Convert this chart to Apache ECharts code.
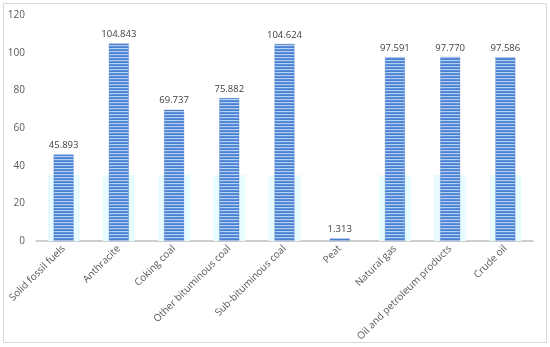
<!DOCTYPE html>
<html><head><meta charset="utf-8">
<script src="https://cdn.jsdelivr.net/npm/echarts@6/dist/echarts.min.js"></script>
<style>html,body{margin:0;padding:0;background:#fff}#c{width:550px;height:347px}</style>
</head><body><div id="c"></div>
<script>
const categories = ['Solid fossil fuels','Anthracite','Coking coal','Other bituminous coal','Sub-bituminous coal','Peat','Natural gas','Oil and petroleum products','Crude oil'];
const values = [45.893, 104.843, 69.737, 75.882, 104.624, 1.313, 97.591, 97.770, 97.586];
const glowValues = [35, 35, 35, 35, 35, 0, 35, 35, 35];
const yTicks = [0, 20, 40, 60, 80, 100, 120];

const pc = document.createElement('canvas');
pc.width = 4; pc.height = 3;
const g = pc.getContext('2d');
g.fillStyle = '#b6cff2'; g.fillRect(0,0,4,1);
g.fillStyle = '#5c90da'; g.fillRect(0,1,4,1);
g.fillStyle = '#4a80d0'; g.fillRect(0,2,4,1);

const chart = echarts.init(document.getElementById('c'), null, {renderer:'canvas'});
const font = 'Open Sans, sans-serif';
chart.setOption({
  backgroundColor: '#fff',
  animation: false,
  graphic: [{type:'rect', shape:{x:3.5,y:3.5,width:543,height:339}, style:{fill:'none', stroke:'#d9d9d9', lineWidth:1}, z:-10}],
  grid: {left:36, right:17, top:15, bottom:106},
  xAxis: [{
    type:'category', data: categories,
    axisLine:{lineStyle:{color:'#bfbfbf', width:1.5}},
    axisTick:{show:false},
    axisLabel:{rotate:45, interval:0, fontSize:10, color:'#595959', fontFamily:font, margin:6}
  },{
    type:'category', data: categories, show:false
  }],
  yAxis: {
    type:'value', min:yTicks[0], max:yTicks[yTicks.length-1], interval:20,
    splitLine:{show:false}, axisLine:{show:false}, axisTick:{show:false},
    axisLabel:{fontSize:10, color:'#595959', fontFamily:font, margin:11}
  },
  series: [{
    type:'bar', xAxisIndex:1, data: glowValues, barWidth:32,
    itemStyle:{color:'#e8fcff'}, silent:true, z:1
  },{
    type:'bar', xAxisIndex:0, data: values, barWidth:20,
    itemStyle:{color:{image: pc, repeat:'repeat'}, borderColor:'rgba(60,110,190,0.6)', borderWidth:0.5},
    label:{show:true, position:'top', fontSize:9.5, color:'#404040', fontFamily:font, distance:4,
      formatter: p => p.value.toFixed(3)},
    z:2
  }]
});
</script></body></html>
